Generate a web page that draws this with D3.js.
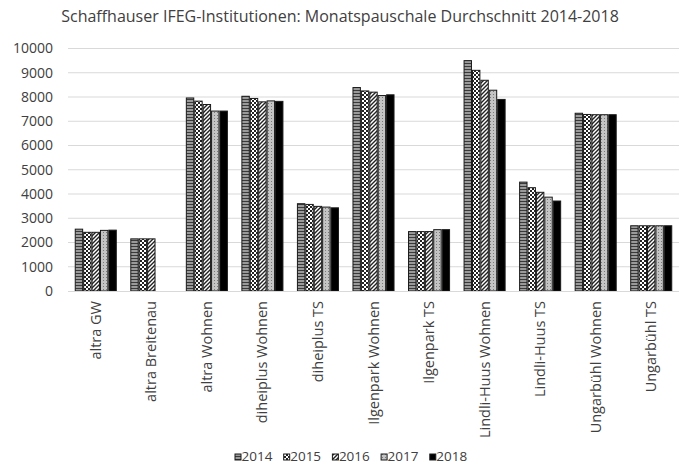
<!DOCTYPE html>
<html><head><meta charset="utf-8">
<script src="https://cdn.jsdelivr.net/npm/d3@7"></script>
<style>body{margin:0;background:#fff}svg{display:block;font-family:"Open Sans",sans-serif}</style>
</head><body>
<svg id="c" width="683" height="467"></svg>
<script>
const categories = ["altra GW","altra Breitenau","altra Wohnen","diheiplus Wohnen","diheiplus TS","Ilgenpark Wohnen","Ilgenpark TS","Lindli-Huus Wohnen","Lindli-Huus TS","Ungarbühl Wohnen","Ungarbühl TS"];
const years = ["2014","2015","2016","2017","2018"];
const v2014 = [2550,2150,7960,8030,3600,8390,2450,9500,4490,7330,2690];
const v2015 = [2420,2150,7830,7940,3570,8250,2450,9100,4260,7280,2690];
const v2016 = [2420,2150,7690,7800,3490,8200,2450,8690,4070,7270,2690];
const v2017 = [2500,null,7420,7840,3460,8060,2530,8280,3870,7270,2690];
const v2018 = [2510,null,7420,7820,3430,8090,2530,7900,3710,7270,2690];
const series = [v2014,v2015,v2016,v2017,v2018];
const yTicks = [0,1000,2000,3000,4000,5000,6000,7000,8000,9000,10000];
const title = "Schaffhauser IFEG-Institutionen: Monatspauschale Durchschnitt 2014-2018";

const svg = d3.select("#c");
const defs = svg.append("defs");
let p = defs.append("pattern").attr("id","p0").attr("patternUnits","userSpaceOnUse").attr("width",4).attr("height",3);
p.append("rect").attr("width",4).attr("height",3).attr("fill","#9a9a9a");
p.append("rect").attr("y",0).attr("width",4).attr("height",1).attr("fill","#3a3a3a");
p = defs.append("pattern").attr("id","p1").attr("patternUnits","userSpaceOnUse").attr("width",4).attr("height",4);
p.append("rect").attr("width",4).attr("height",4).attr("fill","#fff");
p.append("rect").attr("width",2).attr("height",2).attr("fill","#222");
p.append("rect").attr("x",2).attr("y",2).attr("width",2).attr("height",2).attr("fill","#222");
p = defs.append("pattern").attr("id","p2").attr("patternUnits","userSpaceOnUse").attr("width",4).attr("height",4);
p.append("rect").attr("width",4).attr("height",4).attr("fill","#fff");
p.append("path").attr("d","M-1,5 L5,-1 M-1,1 L1,-1 M3,5 L5,3").attr("stroke","#222").attr("stroke-width",1.4);
p = defs.append("pattern").attr("id","p3").attr("patternUnits","userSpaceOnUse").attr("width",3).attr("height",3);
p.append("rect").attr("width",3).attr("height",3).attr("fill","#c4c4c4");
p.append("rect").attr("x",1).attr("y",1).attr("width",1).attr("height",1).attr("fill","#7a7a7a");
const fills = ["url(#p0)","url(#p1)","url(#p2)","url(#p3)","#000"];

const x = d3.scaleBand().domain(categories).range([68,679]).paddingInner(0.243).paddingOuter(0.1215);
const xi = d3.scaleBand().domain(years).range([0,x.bandwidth()]);
const y = d3.scaleLinear().domain([0,10000]).range([291,48.5]);

svg.append("g").selectAll("line").data(yTicks.filter(t=>t>0)).join("line")
  .attr("x1",68).attr("x2",679).attr("y1",d=>y(d)).attr("y2",d=>y(d))
  .attr("stroke","#d9d9d9").attr("stroke-width",1);

const ya = svg.append("g").attr("transform","translate(60,0)")
  .call(d3.axisLeft(y).tickValues(yTicks).tickSize(0).tickPadding(7).tickFormat(d3.format("d")));
ya.select(".domain").remove();
ya.selectAll("text").attr("font-size",14).attr("fill","#404040").attr("font-family","Open Sans");

const g = svg.append("g");
series.forEach((vals,si)=>{
  g.append("g").selectAll("rect").data(categories.map((c,i)=>({c,v:vals[i]})).filter(d=>d.v!=null)).join("rect")
    .attr("x",d=>x(d.c)+xi(years[si])+0.5)
    .attr("width",xi.bandwidth()-1)
    .attr("y",d=>y(d.v))
    .attr("height",d=>y(0)-y(d.v))
    .attr("fill",fills[si])
    .attr("stroke","#1a1a1a").attr("stroke-width",1);
});

const xa = svg.append("g").attr("transform","translate(0,291)")
  .call(d3.axisBottom(x).tickSize(0).tickPadding(0));
xa.select(".domain").attr("stroke","#d9d9d9").attr("d","M68,0.5H679");
xa.selectAll("text").attr("font-size",14.5).attr("fill","#404040").attr("font-family","Open Sans")
  .attr("text-anchor","end").attr("transform","rotate(-90)").attr("x",-10).attr("y",0).attr("dy","0.35em");

svg.append("text").attr("x",340).attr("y",22).attr("text-anchor","middle")
  .attr("font-size",16).attr("fill","#404040").text(title);

const lg = svg.append("g");
years.forEach((yr,i)=>{
  const lx = 235 + i*48.7;
  lg.append("rect").attr("x",lx).attr("y",454).attr("width",6).attr("height",6)
    .attr("fill",fills[i]).attr("stroke","#1a1a1a").attr("stroke-width",1);
  lg.append("text").attr("x",lx+6.5).attr("y",461).attr("font-size",13.5).attr("fill","#404040").text(yr);
});
</script>
</body></html>
